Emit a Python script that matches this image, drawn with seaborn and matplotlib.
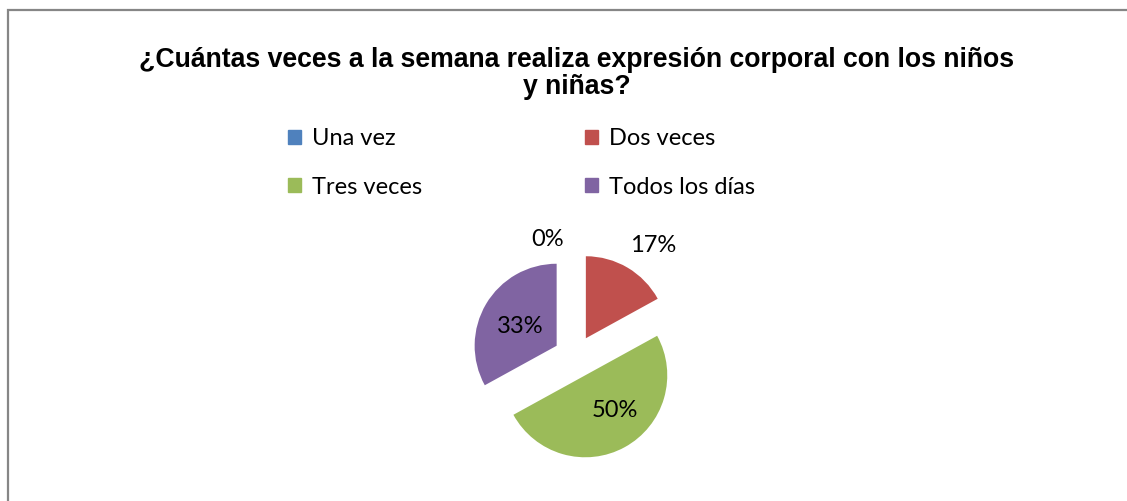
import matplotlib
matplotlib.use("Agg")
import matplotlib.pyplot as plt
import matplotlib.patches as mpatches
import seaborn as sns

# data
categories = ["Una vez", "Dos veces", "Tres veces", "Todos los días"]
percentages = [0, 17, 50, 33]
pct_labels = ["0%", "17%", "50%", "33%"]
title = "¿Cuántas veces a la semana realiza expresión corporal con los niños\ny niñas?"

colors = ["#4F81BD", "#C0504D", "#9BBB59", "#8064A2"]
# label offset (dx, dy) from each exploded wedge's apex, in radius units
label_off = [(-0.33, 1.17), (0.82, 1.13), (0.36, -0.43), (-0.45, 0.235)]

sns.set_style("white")
plt.rcParams["font.family"] = ["Lato", "DejaVu Sans"]
plt.rcParams["text.color"] = "black"

fig = plt.figure(figsize=(11.27, 5.01), dpi=100)

# chart-area border (only top and left edges visible in the crop)
fig.patches.append(mpatches.Rectangle((8 / 1127, -0.1), 1.2, (491 / 501) + 0.1,
                                      transform=fig.transFigure, fill=False,
                                      edgecolor="#868686", linewidth=1.6))

fig.text(0.512, 0.906, title, ha="center", va="top", fontsize=19.2,
         fontweight="bold", family="Liberation Sans", linespacing=1.07)

# pie
ax = fig.add_axes([452 / 1127, 21.4 / 501, 246 / 1127, 246 / 501])
wedges, _ = ax.pie(percentages, colors=colors, startangle=90, counterclock=False,
                   explode=[0.26] * len(percentages), radius=1,
                   wedgeprops=dict(linewidth=0))
ax.set_xlim(-1.5, 1.5)
ax.set_ylim(-1.5, 1.5)
ax.set_aspect("equal")
ax.axis("off")

for w, lab, (dx, dy) in zip(wedges, pct_labels, label_off):
    cx, cy = w.center
    ax.text(cx + dx * w.r, cy + dy * w.r, lab, ha="center", va="center",
            fontsize=17, clip_on=False)

handles = [mpatches.Patch(color=c, label=l) for c, l in zip(colors, categories)]
order = [0, 2, 1, 3]
fig.legend([handles[i] for i in order], [categories[i] for i in order],
           ncol=2, loc="upper left", bbox_to_anchor=(267 / 1127, 1 - 107 / 501),
           frameon=False, fontsize=17, handlelength=0.55, handleheight=0.55,
           handletextpad=0.47, columnspacing=6.9, labelspacing=1.16)

fig.savefig("out.png", dpi=100)
